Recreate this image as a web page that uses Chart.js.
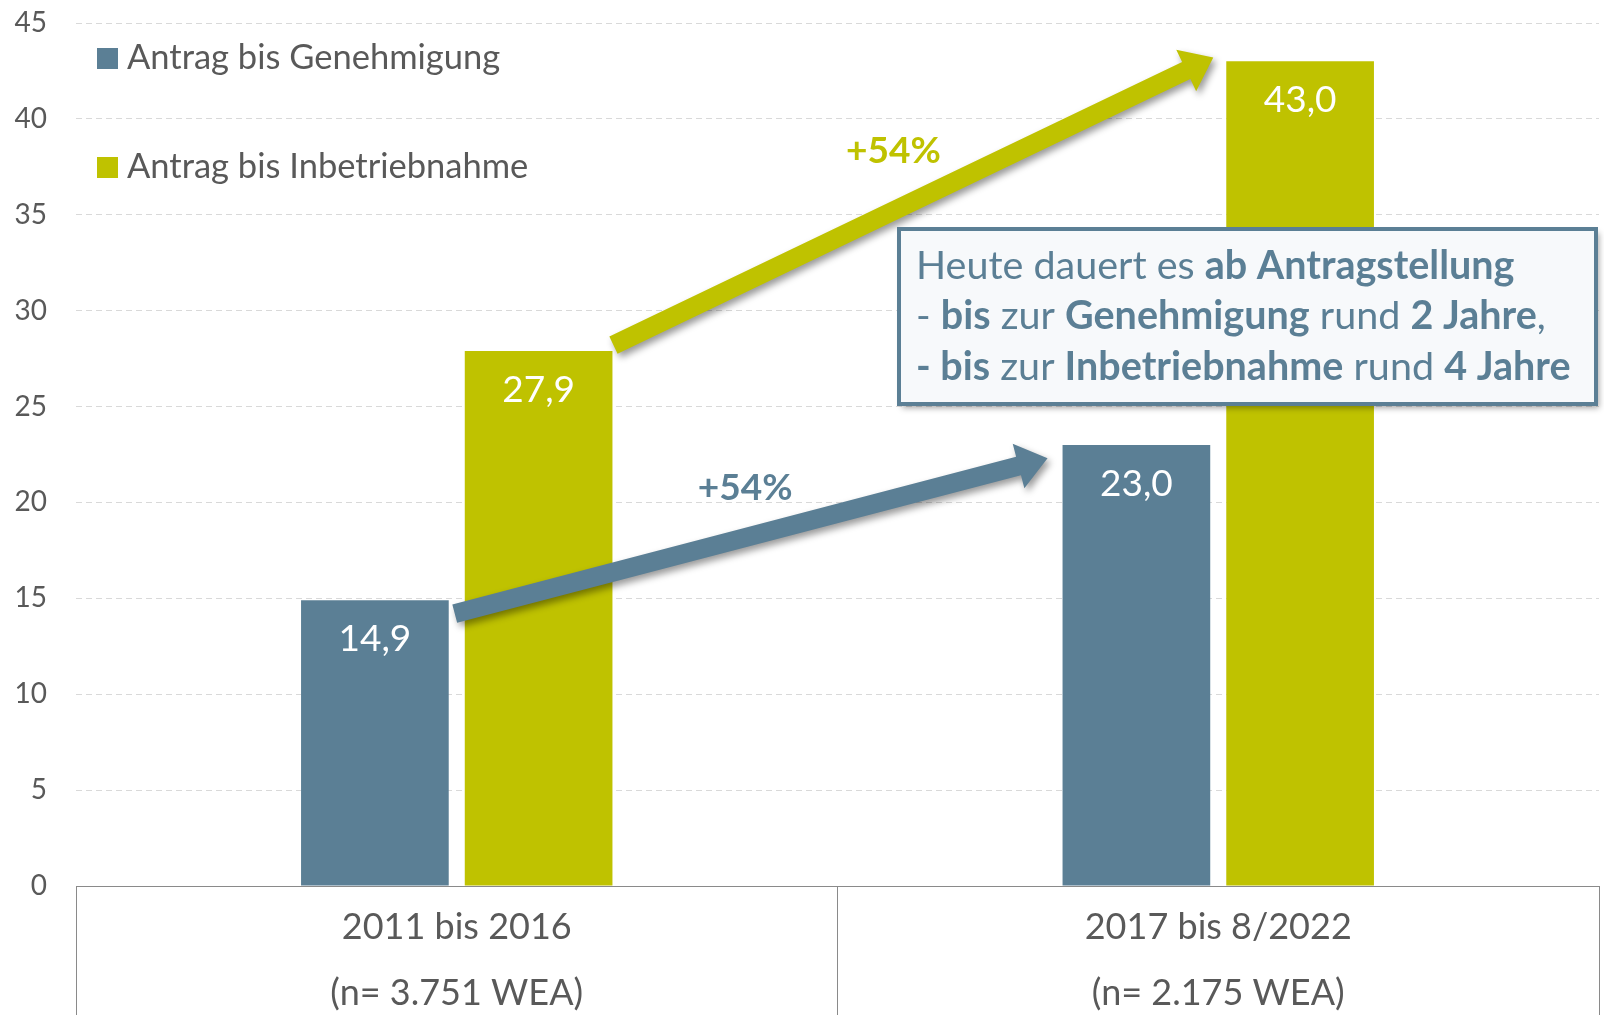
<!DOCTYPE html>
<html>
<head>
<meta charset="utf-8">
<script src="https://cdn.jsdelivr.net/npm/chart.js@4.4.0/dist/chart.umd.min.js"></script>
<style>
  html, body { margin: 0; padding: 0; background: #fff; }
  #wrap { width: 1604px; height: 1015px; }
</style>
</head>
<body>
<div id="wrap"><canvas id="chart" width="1604" height="1015"></canvas></div>
<script>
// data
const periods = [["2011 bis 2016", "(n= 3.751 WEA)"], ["2017 bis 8/2022", "(n= 2.175 WEA)"]];
const seriesNames = ["Antrag bis Genehmigung", "Antrag bis Inbetriebnahme"];
const genehmigung = [14.9, 23.0];
const inbetriebnahme = [27.9, 43.0];
const yMax = 45;
const yStep = 5;
const changeLabels = ["+54%", "+54%"];
const noteLines = [
    [["Heute dauert es ", false], ["ab Antragstellung", true]],
    [["- ", false], ["bis", true], [" zur ", false], ["Genehmigung", true], [" rund ", false], ["2 Jahre", true], [",", false]],
    [["- bis", true], [" zur ", false], ["Inbetriebnahme", true], [" rund ", false], ["4 Jahre", true]]
];

const FONT = "Lato";
const BLUE = "#5b7f95";
const GREEN = "#bfc200";
const TEXT = "#595959";

const fmt = v => v.toFixed(1).replace(".", ",");

// value labels inside the bars
const valueLabels = {
    id: "valueLabels",
    afterDatasetsDraw(chart) {
        const ctx = chart.ctx;
        ctx.save();
        ctx.fillStyle = "#fff";
        ctx.font = "37px " + FONT;
        ctx.textAlign = "center";
        ctx.textBaseline = "middle";
        chart.data.datasets.forEach((ds, i) => {
            chart.getDatasetMeta(i).data.forEach((bar, j) => {
                ctx.fillText(fmt(ds.data[j]), bar.x, bar.y + 39);
            });
        });
        ctx.restore();
    }
};

function drawArrow(ctx, x1, y1, x2, y2, color) {
    const ang = Math.atan2(y2 - y1, x2 - x1);
    const len = Math.hypot(x2 - x1, y2 - y1);
    const w = 19, hw = 46, hl = 30;
    ctx.save();
    ctx.translate(x1, y1);
    ctx.rotate(ang);
    ctx.shadowColor = "rgba(0,0,0,0.4)";
    ctx.shadowBlur = 7;
    ctx.shadowOffsetX = 3;
    ctx.shadowOffsetY = 4;
    ctx.fillStyle = color;
    ctx.beginPath();
    ctx.moveTo(0, -w / 2);
    ctx.lineTo(len - hl, -w / 2);
    ctx.lineTo(len - hl, -hw / 2);
    ctx.lineTo(len, 0);
    ctx.lineTo(len - hl, hw / 2);
    ctx.lineTo(len - hl, w / 2);
    ctx.lineTo(0, w / 2);
    ctx.closePath();
    ctx.fill();
    ctx.restore();
}

// growth arrows from the first period to the second
const growthArrows = {
    id: "growthArrows",
    afterDatasetsDraw(chart) {
        const ctx = chart.ctx;
        const y = chart.scales.y;
        const specs = [
            { ds: 1, color: GREEN, d0: 0.3, d1: 0.2, gap: 13, lx: -20, ly: -50 },
            { ds: 0, color: BLUE, d0: -0.7, d1: -0.7, gap: 15, lx: -6, ly: -48 }
        ];
        specs.forEach(s => {
            const bars = chart.getDatasetMeta(s.ds).data;
            const vals = chart.data.datasets[s.ds].data;
            const x1 = bars[0].x + bars[0].width / 2 + (s.ds === 0 ? 6 : 1);
            const y1 = y.getPixelForValue(vals[0] + s.d0);
            const x2 = bars[1].x - bars[1].width / 2 - s.gap;
            const y2 = y.getPixelForValue(vals[1] + s.d1);
            drawArrow(ctx, x1, y1, x2, y2, s.color);
            ctx.save();
            ctx.fillStyle = s.color;
            ctx.font = "bold 37px " + FONT;
            ctx.textAlign = "center";
            ctx.textBaseline = "middle";
            ctx.fillText(changeLabels[s.ds], (x1 + x2) / 2 + s.lx, (y1 + y2) / 2 + s.ly);
            ctx.restore();
        });
    }
};

// note box on the right
const noteBox = {
    id: "noteBox",
    afterDraw(chart) {
        const ctx = chart.ctx;
        const bx = 899, by = 229, bw = 697, bh = 175;
        ctx.save();
        ctx.shadowColor = "rgba(0,0,0,0.35)";
        ctx.shadowBlur = 6;
        ctx.shadowOffsetX = 3;
        ctx.shadowOffsetY = 4;
        ctx.fillStyle = "#f7f9fb";
        ctx.fillRect(bx, by, bw, bh);
        ctx.shadowColor = "transparent";
        ctx.strokeStyle = BLUE;
        ctx.lineWidth = 4;
        ctx.strokeRect(bx, by, bw, bh);
        ctx.fillStyle = BLUE;
        ctx.textBaseline = "middle";
        noteLines.forEach((line, i) => {
            let x = bx + 17;
            const ty = by + 37 + i * 50.5;
            line.forEach(([txt, bold]) => {
                ctx.font = (bold ? "bold " : "") + "39.5px " + FONT;
                ctx.fillText(txt, x, ty);
                x += ctx.measureText(txt).width;
            });
        });
        ctx.restore();
    }
};

// legend in the upper left
const sideLegend = {
    id: "sideLegend",
    afterDraw(chart) {
        const ctx = chart.ctx;
        ctx.save();
        ctx.font = "34.5px " + FONT;
        ctx.textBaseline = "middle";
        chart.data.datasets.forEach((ds, i) => {
            const cy = 58 + i * 109;
            ctx.fillStyle = ds.backgroundColor;
            ctx.fillRect(97, cy - 10, 21, 21);
            ctx.fillStyle = TEXT;
            ctx.fillText(ds.label, 127, cy);
        });
        ctx.restore();
    }
};

new Chart(document.getElementById("chart"), {
    type: "bar",
    data: {
        labels: periods,
        datasets: [
            { label: seriesNames[0], data: genehmigung, backgroundColor: BLUE },
            { label: seriesNames[1], data: inbetriebnahme, backgroundColor: GREEN }
        ]
    },
    options: {
        responsive: false,
        animation: false,
        devicePixelRatio: 1,
        layout: { padding: { top: 23, right: 5, left: 0, bottom: 0 } },
        datasets: { bar: { categoryPercentage: 0.43, barPercentage: 0.902 } },
        plugins: {
            legend: { display: false },
            tooltip: { enabled: false }
        },
        scales: {
            x: {
                grid: { drawOnChartArea: false, tickLength: 129, color: "#8a8a8a", offset: true },
                border: { color: "#8a8a8a" },
                ticks: {
                    padding: -120,
                    color: TEXT,
                    font: { family: FONT, size: 36, lineHeight: 1.82 }
                },
                afterFit: s => { s.height = 129; s.paddingLeft = 0; s.paddingRight = 0; }
            },
            y: {
                min: 0,
                max: yMax,
                ticks: {
                    stepSize: yStep,
                    padding: 29,
                    color: TEXT,
                    font: { family: FONT, size: 28 }
                },
                grid: { color: "#d9d9d9", drawTicks: false },
                border: { display: false, dash: [6, 4] },
                afterFit: s => { s.width = 76; s.paddingTop = 0; s.paddingBottom = 0; }
            }
        }
    },
    plugins: [valueLabels, growthArrows, noteBox, sideLegend]
});
</script>
</body>
</html>
